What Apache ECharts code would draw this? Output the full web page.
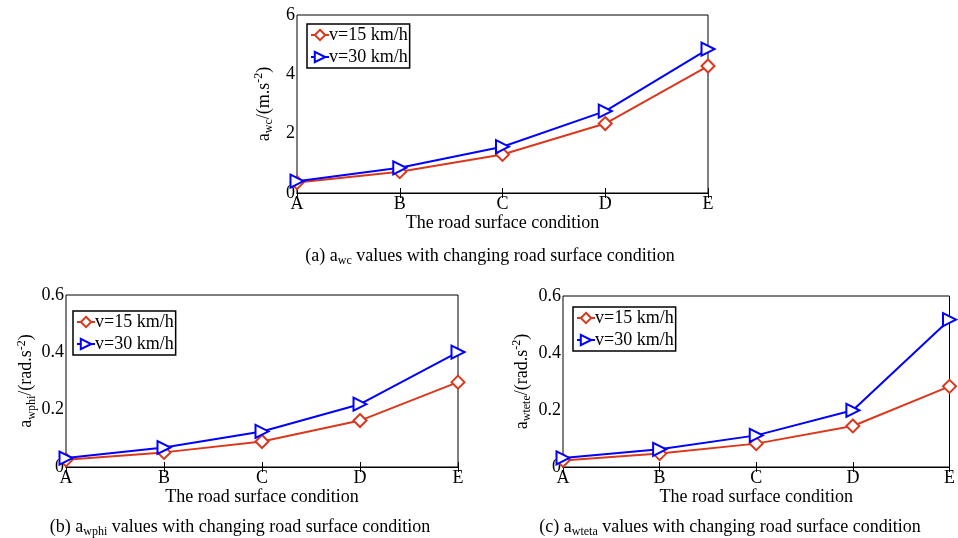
<!DOCTYPE html>
<html><head><meta charset="utf-8">
<script src="https://cdn.jsdelivr.net/npm/echarts@6/dist/echarts.min.js"></script>
<style>html,body{margin:0;padding:0;background:#fff}#c{width:958px;height:538px}</style>
</head><body><div id="c"></div>
<script>
const categories = ['A','B','C','D','E'];
const seriesNames = ['v=15 km/h','v=30 km/h'];
// (a) a_wc
const awc15 = [0.35, 0.72, 1.30, 2.34, 4.28];
const awc30 = [0.40, 0.85, 1.56, 2.76, 4.85];
// (b) a_wphi
const awphi15 = [0.025, 0.051, 0.089, 0.162, 0.296];
const awphi30 = [0.031, 0.068, 0.124, 0.219, 0.401];
// (c) a_wteta
const awteta15 = [0.023, 0.047, 0.082, 0.144, 0.283];
const awteta30 = [0.032, 0.062, 0.111, 0.199, 0.517];
const yTicksA = [0, 2, 4, 6];
const yTicksB = [0, 0.2, 0.4, 0.6];

const RED = '#d9381e', BLUE = '#0000ff';
const FONT = 'Liberation Serif';
const FS = 18;
const chart = echarts.init(document.getElementById('c'));

const grids = [
  {left: 297, top: 15, width: 411, height: 178},
  {left: 66, top: 295, width: 392, height: 172},
  {left: 563, top: 296, width: 390, height: 171}
];
const yNames = [
  'a{sub|wc}/(m.s{sup|-2})',
  'a{sub|wphi}/(rad.s{sup|-2})',
  'a{sub|wtete}/(rad.s{sup|-2})'
];
const yNameGaps = [22, 27, 30];
const yCfg = [
  {min: yTicksA[0], max: yTicksA[yTicksA.length-1], interval: yTicksA[1]-yTicksA[0]},
  {min: yTicksB[0], max: yTicksB[yTicksB.length-1], interval: yTicksB[1]-yTicksB[0]},
  {min: yTicksB[0], max: yTicksB[yTicksB.length-1], interval: yTicksB[1]-yTicksB[0]}
];
const data = [[awc15, awc30],[awphi15, awphi30],[awteta15, awteta30]];
const rich = {
  sub: {fontSize: 12, fontFamily: FONT, color: '#000', lineHeight: 10, verticalAlign: 'bottom'},
  sup: {fontSize: 12, fontFamily: FONT, color: '#000', lineHeight: 10, verticalAlign: 'top'}
};
const xAxis = [], yAxis = [], series = [], legend = [];
grids.forEach((g, i) => {
  const common = {
    gridIndex: i,
    axisLine: {lineStyle: {color: '#000', width: 1}},
    splitLine: {show: false}
  };
  xAxis.push(Object.assign({}, common, {
    type: 'category', data: categories, boundaryGap: false, position: 'bottom',
    axisTick: {inside: true, length: 5, lineStyle: {color: '#000'}, alignWithLabel: true},
    axisLabel: {color: '#000', fontFamily: FONT, fontSize: FS, margin: 2},
    name: 'The road surface condition', nameLocation: 'middle', nameGap: 20,
    nameTextStyle: {color: '#000', fontFamily: FONT, fontSize: FS}
  }));
  xAxis.push(Object.assign({}, common, {
    type: 'category', data: categories, boundaryGap: false, position: 'top',
    axisTick: {inside: true, length: 5, lineStyle: {color: '#000'}},
    axisLabel: {show: false}
  }));
  yAxis.push(Object.assign({}, common, yCfg[i], {
    type: 'value', position: 'left',
    axisTick: {inside: true, length: 5, lineStyle: {color: '#000'}},
    axisLabel: {color: '#000', fontFamily: FONT, fontSize: FS, margin: 2},
    name: yNames[i], nameLocation: 'middle', nameGap: yNameGaps[i], nameRotate: 90,
    nameTextStyle: {color: '#000', fontFamily: FONT, fontSize: FS, lineHeight: 22, rich: rich}
  }));
  yAxis.push(Object.assign({}, common, yCfg[i], {
    type: 'value', position: 'right',
    axisTick: {inside: true, length: 5, lineStyle: {color: '#000'}},
    axisLabel: {show: false}
  }));
  const colors = [RED, BLUE];
  const symbols = ['diamond', 'triangle'];
  const rot = [0, -90];
  [0, 1].forEach(k => {
    series.push({
      name: seriesNames[k], type: 'line',
      xAxisIndex: i * 2, yAxisIndex: i * 2,
      data: data[i][k],
      symbol: symbols[k], symbolSize: 13, symbolRotate: rot[k],
      showAllSymbol: true,
      lineStyle: {color: colors[k], width: 2},
      itemStyle: {color: '#fff', borderColor: colors[k], borderWidth: 2},
      color: colors[k],
      z: 3 + k,
      animation: false
    });
  });
});
const legendPos = [
  {left: 307, top: 24}, {left: 73, top: 311}, {left: 573, top: 307}
];
legendPos.forEach(p => {
  legend.push({
    left: p.left, top: p.top, orient: 'vertical',
    data: seriesNames.map((n, k) => ({name: n, itemStyle: {color: '#fff', borderColor: k ? BLUE : RED, borderWidth: 2}})),
    itemWidth: 18, itemHeight: 13, itemGap: 4,
    padding: [2, 2, 2, 3],
    borderColor: '#000', borderWidth: 1.5, borderRadius: 0, backgroundColor: '#fff',
    textStyle: {color: '#000', fontFamily: FONT, fontSize: FS, padding: [0, 0, 0, -5]},
    selectedMode: false
  });
});
const capRich = {sub: {fontSize: 12, fontFamily: FONT, color: '#000', lineHeight: 10, verticalAlign: 'bottom'}};
const title = [
  {text: '(a) a{sub|wc} values with changing road surface condition', left: 490, top: 245, textAlign: 'center'},
  {text: '(b) a{sub|wphi} values with changing road surface condition', left: 240, top: 516, textAlign: 'center'},
  {text: '(c) a{sub|wteta} values with changing road surface condition', left: 730, top: 516, textAlign: 'center'}
].map(t => Object.assign(t, {padding: 0, textStyle: {color: '#000', fontFamily: FONT, fontSize: FS, fontWeight: 'normal', lineHeight: 22, rich: capRich}}));

chart.setOption({
  animation: false,
  backgroundColor: '#fff',
  title: title,
  grid: grids.map(g => Object.assign({}, g, {show: true, borderColor: '#000', borderWidth: 1, backgroundColor: 'transparent'})),
  xAxis: xAxis, yAxis: yAxis, series: series, legend: legend
});
</script></body></html>
